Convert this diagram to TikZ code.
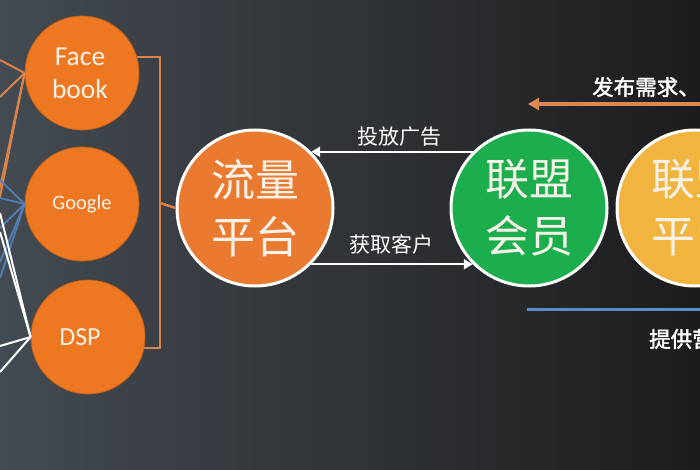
\documentclass[tikz,border=0pt]{standalone}
\usepackage{fontspec}
\setmainfont{Carlito}
\newfontfamily\cjk{Noto Sans CJK SC}
\newfontfamily\cjkb{Noto Sans CJK SC}[FakeBold=2]
\usetikzlibrary{arrows.meta}
\definecolor{bgL}{HTML}{434A51}
\definecolor{bgM}{HTML}{2B2D30}
\definecolor{bgR}{HTML}{1C1C1D}
\definecolor{orangeA}{HTML}{EE7822}
\definecolor{orangeB}{HTML}{E97A30}
\definecolor{orangeLine}{HTML}{D9824A}
\definecolor{greenA}{HTML}{1CAD4C}
\definecolor{yellowA}{HTML}{F1B43E}
\definecolor{blueLine}{HTML}{5B8CC2}
\definecolor{blueThin}{HTML}{4F7FB4}
\definecolor{txtW}{HTML}{F6F2EA}
\begin{document}
\begin{tikzpicture}[x=1pt,y=-1pt,
  smallc/.style={circle,fill=orangeA,draw=orangeA!80!black,line width=0.8pt,minimum size=114pt,inner sep=0pt,text=txtW,align=center},
  bigc/.style={circle,draw=white,line width=3pt,minimum size=156pt,inner sep=0pt,text=txtW,align=center,font=\cjk\fontsize{44}{57}\selectfont},
  oline/.style={draw=orangeLine,line width=2pt},
  bline/.style={draw=blueThin,line width=1.8pt},
  wline/.style={draw=white,line width=2pt},
  bracket/.style={draw=orangeLine,line width=2.4pt},
  warr/.style={draw=white,line width=2.4pt,-{Triangle[length=9pt,width=10pt]}},
  lbl/.style={text=white,font=\cjk\fontsize{21}{24}\selectfont,inner sep=0pt},
  blbl/.style={text=white,font=\cjkb\fontsize{21.5}{24}\selectfont,inner sep=0pt,anchor=west}
]
\useasboundingbox (0,0) rectangle (700,470);
\clip (0,0) rectangle (700,470);
\shade[left color=bgL, middle color=bgM, right color=bgR] (0,0) rectangle (700,470);

% free ends on the left edge
\coordinate (o1) at (0,60);
\coordinate (o2) at (0,97);
\coordinate (o3) at (0,188);
\coordinate (o4) at (0,197);
\coordinate (b1) at (0,180);
\coordinate (b2) at (0,198);
\coordinate (b3) at (0,228);
\coordinate (b4) at (0,262);
\coordinate (b5) at (0,278);
\coordinate (w1) at (0,213);
\coordinate (w2) at (0,232);
\coordinate (w3) at (0,346);
\coordinate (w4) at (0,372);

% small circles
\node[smallc,font=\fontsize{27.5}{33}\selectfont] (fb) at (82,73) {Face\hspace*{4pt}\\book\hspace*{4pt}};
\node[smallc,font=\fontsize{20.5}{24}\selectfont] (google) at (82,204) {Google};
\node[smallc,font=\fontsize{26}{30}\selectfont] (dsp) at (88,337) {DSP\hspace*{16pt}};

% lines from the left edge
\foreach \p in {o1,o2,o3,o4} \draw[oline] (\p) -- (fb.west);
\foreach \p in {b1,b2,b3,b4,b5} \draw[bline] (\p) -- (google.west);
\foreach \p in {w1,w2,w3,w4} \draw[wline] (\p) -- (dsp.west);

% big circles
\node[bigc,fill=orangeB] (flow) at (255,208) {流量\\平台};
\node[bigc,fill=greenA] (member) at (529,208) {联盟\\会员};
\node[bigc,fill=yellowA] (platform) at (695,208) {联盟\\平台};

% bracket
\coordinate (brk) at (160,203);
\draw[bracket] (fb.16) -| (brk) |- (dsp.-11);
\draw[bracket] (brk) -- (flow.west);

% arrows between flow and member
\draw[warr] (member.135) -- (flow.45);
\draw[warr] (flow.-45) -- (member.225);
\node[lbl] (t1) at (399,137) {投放广告};
\node[lbl] (t2) at (391,244) {获取客户};

% right side
\coordinate (oa1) at (705,104);
\coordinate (oa2) at (528,104);
\draw[draw=orangeLine!95!white,line width=3.5pt,-{Triangle[length=11pt,width=12pt]}] (oa1) -- (oa2);
\node[blbl] (t3) at (592,87) {发布需求、};
\coordinate (bl1) at (527,309);
\coordinate (bl2) at (705,309);
\draw[draw=blueLine,line width=3pt] (bl1) -- (bl2);
\node[blbl] (t4) at (649,339) {提供营销};
\end{tikzpicture}
\end{document}
